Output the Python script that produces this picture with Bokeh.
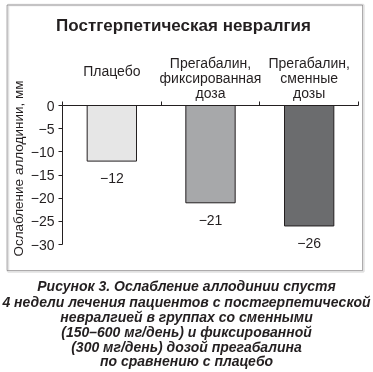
from bokeh.plotting import figure
from bokeh.models import (Range1d, LinearAxis, FixedTicker, Label, LabelSet,
                          ColumnDataSource, BoxAnnotation)
from bokeh.core.properties import value
from bokeh.embed import file_html
from bokeh.resources import INLINE
import math

# ---- data ----
title_text = "Постгерпетическая невралгия"
categories = ["Плацебо", "Прегабалин,\nфиксированная\nдоза", "Прегабалин,\nсменные\nдозы"]
values = [-12, -21, -26]
value_labels = ["\u221212", "\u221221", "\u221226"]
bar_colors = ["#e6e6e6", "#a7a8aa", "#6b6c6e"]
y_ticks = [0, -5, -10, -15, -20, -25, -30]
y_tick_labels = ["0", "\u22125", "\u221210", "\u221215", "\u221220", "\u221225", "\u221230"]
y_label = "Ослабление аллодинии, мм"
caption = ["Рисунок 3. Ослабление аллодинии спустя",
           "4 недели лечения пациентов с постгерпетической",
           "невралгией в группах со сменными",
           "(150\u2013600 мг/день) и фиксированной",
           "(300 мг/день) дозой прегабалина",
           "по сравнению с плацебо"]

FONT = "Liberation Sans, Arial, Helvetica, sans-serif"
INK = "#231f20"

W, H = 373, 372
# page pixels of the data area: x 0..3 -> 62..358, y 0..-30 -> 105..244
X0, X3, Y0, Y30 = 62, 358, 105, 244
kx = (X3 - X0) / 3.0
ky = (Y30 - Y0) / 30.0

p = figure(width=W, height=H, output_backend="svg", toolbar_location=None,
           x_range=Range1d(-X0 / kx, (W - X0) / kx),
           y_range=Range1d(-(H - Y0) / ky, Y0 / ky),
           x_axis_location=None, y_axis_location=None,
           min_border=0)
p.styles = {"position": "fixed", "left": "0px", "top": "0px"}
p.outline_line_color = None
p.xgrid.visible = False
p.ygrid.visible = False
p.background_fill_color = "white"
p.border_fill_color = "white"

# axes drawn at fixed data locations
xa = LinearAxis(ticker=FixedTicker(ticks=[0, 1, 2, 3]), fixed_location=0, bounds=(0, 3))
xa.major_tick_out = 4
xa.major_tick_in = 0
xa.minor_tick_out = 0
xa.minor_tick_in = 0
xa.major_label_text_font_size = "0px"
xa.major_label_overrides = {0: "", 1: "", 2: "", 3: ""}
xa.axis_line_color = INK
xa.major_tick_line_color = INK
p.add_layout(xa, "above")

ya = LinearAxis(ticker=FixedTicker(ticks=y_ticks), fixed_location=0, bounds=(-30, 0))
ya.major_label_overrides = {t: s for t, s in zip(y_ticks, y_tick_labels)}
ya.major_tick_out = 4
ya.major_tick_in = 0
ya.minor_tick_out = 0
ya.minor_tick_in = 0
ya.major_label_standoff = 4
ya.major_label_text_font = FONT
ya.major_label_text_font_size = "14px"
ya.major_label_text_color = INK
ya.axis_line_color = INK
ya.major_tick_line_color = INK
p.add_layout(ya, "left")

xs = [i + 0.5 for i in range(len(values))]
src = ColumnDataSource(dict(x=xs, v=values, lab=value_labels, c=bar_colors))
p.vbar(x="x", top=0, bottom="v", width=0.5, fill_color="c", line_color=INK,
       line_width=1, source=src)

p.add_layout(LabelSet(x="x", y="v", text="lab", source=src, y_offset=-17,
                      text_align="center", text_baseline="middle",
                      text_font=value(FONT), text_font_size=value("14px"),
                      text_color=INK))

def sx(px):
    return px

def sy(py):
    return H - py

# outer box with grey shadow on right/bottom
p.add_layout(BoxAnnotation(left=sx(7.5), right=sx(363), top=sy(4.5), bottom=sy(271),
                           left_units="screen", right_units="screen",
                           top_units="screen", bottom_units="screen",
                           fill_color=None, line_color="#9a9a9a", line_width=2.5))
p.add_layout(BoxAnnotation(left=sx(6.5), right=sx(362), top=sy(4.5), bottom=sy(270),
                           left_units="screen", right_units="screen",
                           top_units="screen", bottom_units="screen",
                           fill_color=None, line_color=INK, line_width=1))

# title
p.add_layout(Label(x=sx(183), y=sy(25), x_units="screen", y_units="screen",
                   text=title_text, text_align="center", text_baseline="middle",
                   text_font=FONT, text_font_size="17px", text_font_style="bold",
                   text_color=INK))

# category labels
cat_line_y = {1: [70], 3: [62, 77, 92]}
for x, cat in zip(xs, categories):
    lines = cat.split("\n")
    for ln, py in zip(lines, cat_line_y[len(lines)]):
        p.add_layout(Label(x=x, y=sy(py), x_units="data", y_units="screen",
                           text=ln, text_align="center", text_baseline="middle",
                           text_font=FONT, text_font_size="14px", text_color=INK))

# y axis label
p.add_layout(Label(x=sx(18), y=sy(168), x_units="screen", y_units="screen",
                   text=y_label, angle=math.pi / 2, text_align="center",
                   text_baseline="middle", text_font=FONT, text_font_size="13.5px",
                   text_color=INK))

# caption
cap_y = [285, 301, 316, 331, 346, 360]
for ln, py in zip(caption, cap_y):
    p.add_layout(Label(x=sx(186), y=sy(py), x_units="screen", y_units="screen",
                       text=ln, text_align="center", text_baseline="middle",
                       text_font=FONT, text_font_size="14px",
                       text_font_style="bold italic", text_color=INK))

open("out.html", "w").write(file_html(p, INLINE))
